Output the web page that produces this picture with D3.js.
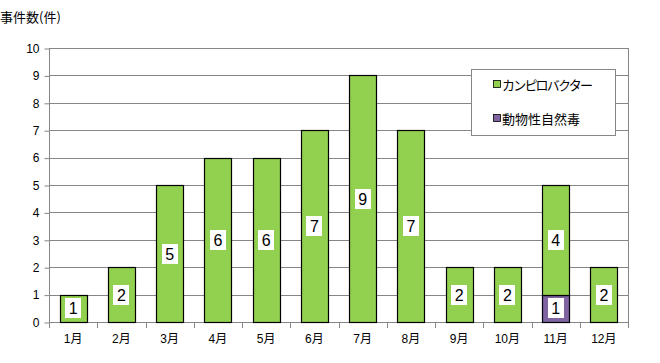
<!DOCTYPE html>
<html>
<head>
<meta charset="utf-8">
<script src="https://cdn.jsdelivr.net/npm/d3@7"></script>
<style>
  body { margin: 0; background: #fff; }
  text { font-family: "Liberation Sans", Arial, "Noto Sans CJK JP", sans-serif; }
</style>
</head>
<body>
<script>
// data
const months = ["1月","2月","3月","4月","5月","6月","7月","8月","9月","10月","11月","12月"];
const campylo = [1, 2, 5, 6, 6, 7, 9, 7, 2, 2, 4, 2];   // カンピロバクター
const animalToxin = [0, 0, 0, 0, 0, 0, 0, 0, 0, 0, 1, 0]; // 動物性自然毒
const seriesNames = ["カンピロバクター", "動物性自然毒"];
const yTicks = [0,1,2,3,4,5,6,7,8,9,10];

const width = 660, height = 363;
const plotLeft = 49, plotRight = 628, plotTop = 48, plotBottom = 322;
const gridColor = "#868686";
const colors = ["#92D050", "#8064A2"];

const svg = d3.select("body").append("svg")
  .attr("width", width)
  .attr("height", height);

const x = d3.scaleBand().domain(months).range([plotLeft, plotRight]).paddingInner(0.44).paddingOuter(0.22);
const y = d3.scaleLinear().domain([0, 10]).range([plotBottom, plotTop]);

// gridlines
svg.append("g").selectAll("line")
  .data(yTicks.filter(d => d > 0))
  .join("line")
  .attr("x1", plotLeft).attr("x2", plotRight)
  .attr("y1", d => Math.round(y(d)) + 0.5).attr("y2", d => Math.round(y(d)) + 0.5)
  .attr("stroke", gridColor).attr("stroke-width", 1);

// right border
svg.append("line")
  .attr("x1", plotRight + 0.5).attr("x2", plotRight + 0.5)
  .attr("y1", plotTop).attr("y2", plotBottom)
  .attr("stroke", gridColor);

// y axis
const yAxis = d3.axisLeft(y).tickValues(yTicks).tickSize(5).tickPadding(5);
const gy = svg.append("g").attr("transform", "translate(" + (plotLeft + 0.5) + ",0.5)").call(yAxis);
gy.select(".domain").attr("stroke", gridColor).attr("d", "M0," + (plotBottom - 0.5) + "V" + (plotTop - 0.5));
gy.selectAll(".tick line").attr("stroke", gridColor);
gy.selectAll(".tick text").attr("fill", "#000").style("font-size", "12px");

// x axis (ticks at category boundaries)
const n = months.length;
const gx = svg.append("g");
gx.append("line")
  .attr("x1", plotLeft).attr("x2", plotRight + 1)
  .attr("y1", plotBottom + 0.5).attr("y2", plotBottom + 0.5)
  .attr("stroke", gridColor);
gx.selectAll(".xt")
  .data(d3.range(n + 1))
  .join("line")
  .attr("class", "xt")
  .attr("x1", i => Math.round(plotLeft + i * (plotRight - plotLeft) / n) + 0.5)
  .attr("x2", i => Math.round(plotLeft + i * (plotRight - plotLeft) / n) + 0.5)
  .attr("y1", plotBottom).attr("y2", plotBottom + 6)
  .attr("stroke", gridColor);
gx.selectAll("text")
  .data(months)
  .join("text")
  .attr("x", d => x(d) + x.bandwidth() / 2)
  .attr("y", plotBottom + 21)
  .attr("text-anchor", "middle")
  .style("font-size", "12px")
  .text(d => d);

// stacked bars
const rows = months.map((m, i) => ({ month: m, a: campylo[i], b: animalToxin[i] }));
const stack = d3.stack().keys(["b", "a"])(rows);
const layers = svg.append("g").selectAll("g")
  .data(stack)
  .join("g")
  .attr("fill", (d, i) => i === 0 ? colors[1] : colors[0]);

layers.selectAll("rect")
  .data(d => d.filter(s => s[1] - s[0] > 0))
  .join("rect")
  .attr("x", d => Math.round(x(d.data.month)) + 0.5)
  .attr("y", d => Math.round(y(d[1])) + 0.5)
  .attr("width", Math.round(x.bandwidth()))
  .attr("height", d => Math.round(y(d[0])) - Math.round(y(d[1])))
  .attr("stroke", "#000")
  .attr("stroke-width", 1.2);

// data labels
const labels = svg.append("g");
stack.forEach(layer => {
  layer.forEach(s => {
    const v = s[1] - s[0];
    if (v <= 0) return;
    const cx = x(s.data.month) + x.bandwidth() / 2;
    const cy = (y(s[0]) + y(s[1])) / 2;
    labels.append("rect")
      .attr("x", Math.round(cx - 8))
      .attr("y", Math.round(cy - 10))
      .attr("width", 16).attr("height", 20)
      .attr("fill", "#fff");
    labels.append("text")
      .attr("x", cx)
      .attr("y", cy + 6)
      .attr("text-anchor", "middle")
      .style("font-size", "16px")
      .text(v);
  });
});

// title
svg.append("text")
  .attr("x", 0).attr("y", 22)
  .style("font-size", "13px")
  .style("font-family", "'Noto Sans CJK JP', sans-serif")
  .text("事件数(件)");

// legend
const lg = svg.append("g");
lg.append("rect")
  .attr("x", 471.5).attr("y", 69.5)
  .attr("width", 144).attr("height", 66)
  .attr("fill", "#fff").attr("stroke", gridColor);
seriesNames.forEach((name, i) => {
  const ly = 85 + i * 34;
  lg.append("rect")
    .attr("x", 493.5).attr("y", ly - 4.5)
    .attr("width", 7).attr("height", 7)
    .attr("fill", colors[i]).attr("stroke", "#000").attr("stroke-width", 0.8);
  lg.append("text")
    .attr("x", 502).attr("y", ly + 5)
    .style("font-size", "13px")
    .style("letter-spacing", i === 0 ? "-1.8px" : "0px")
    .style("font-family", "'Noto Sans CJK JP', sans-serif")
    .text(name);
});
</script>
</body>
</html>
